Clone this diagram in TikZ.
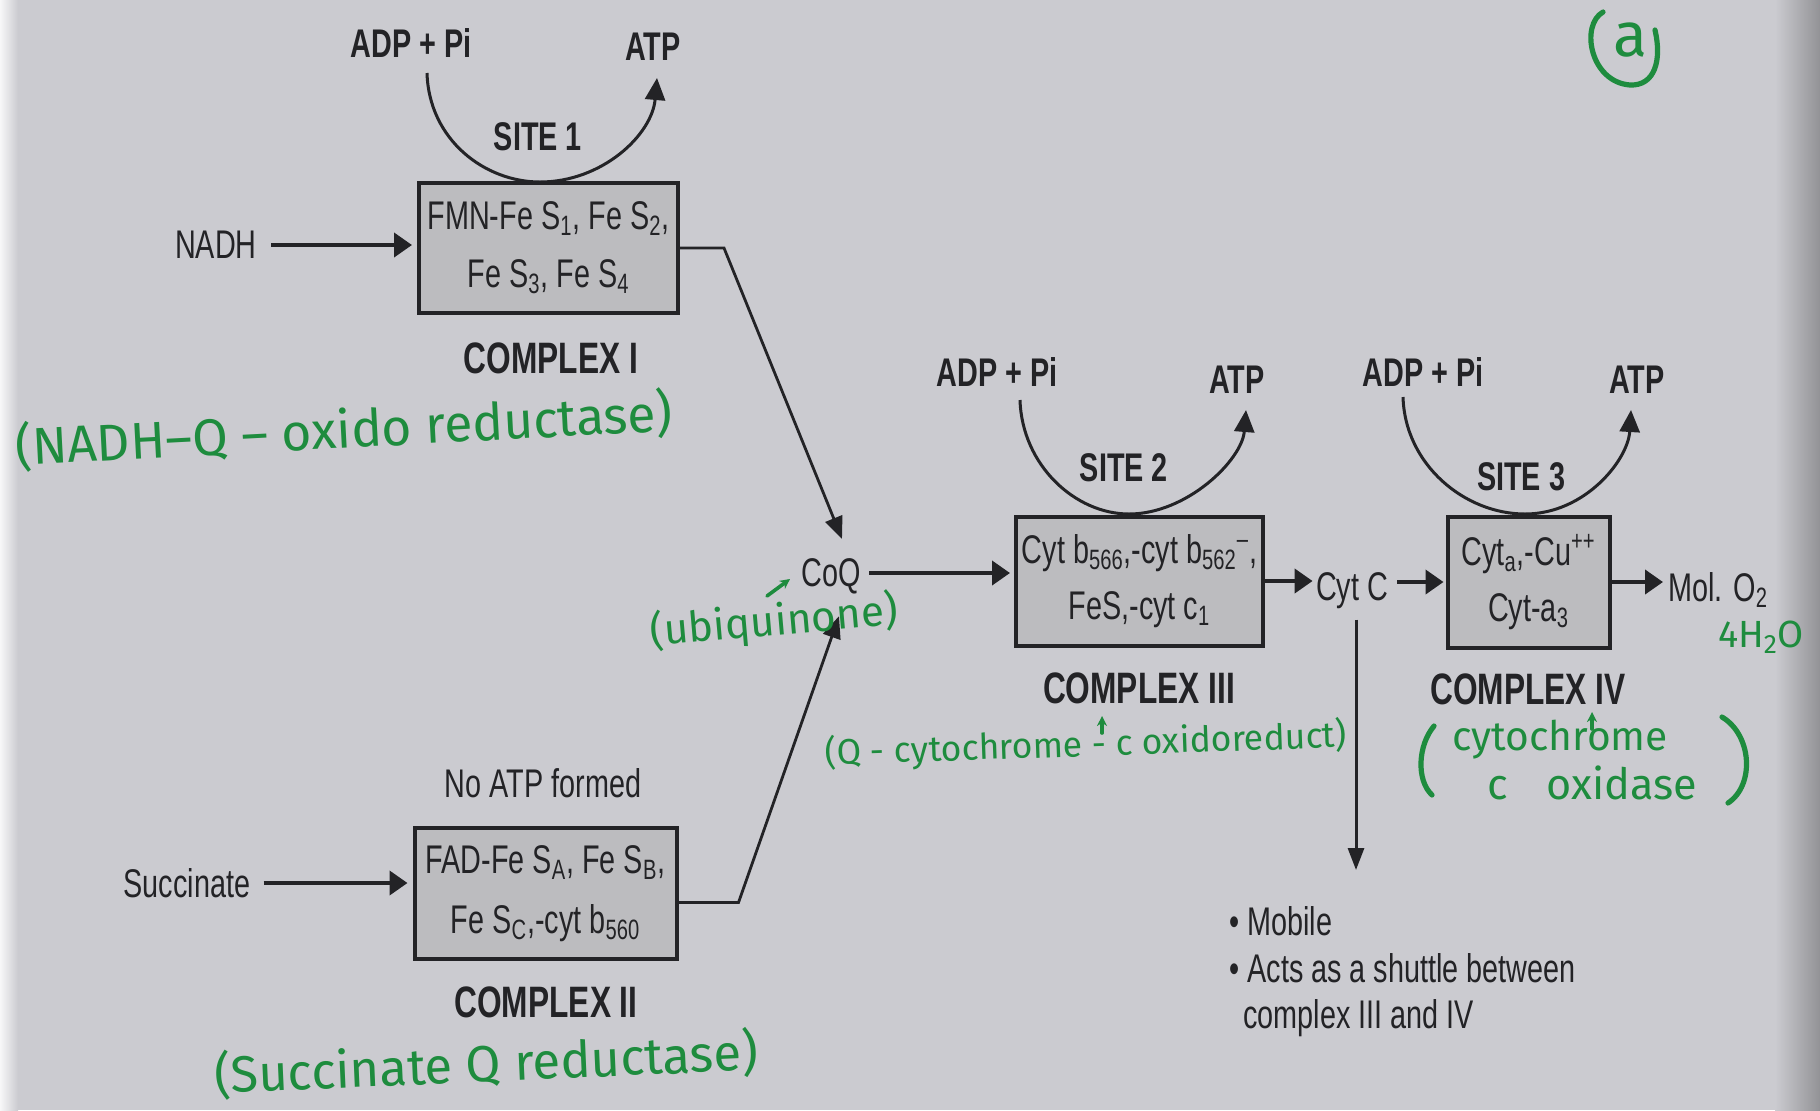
\documentclass[tikz,border=0pt]{standalone}
\usepackage{fontspec}
\setmainfont{Liberation Sans}[FakeStretch=0.72]
\newfontfamily\hand{Fira Sans}
\usetikzlibrary{arrows.meta,calc}
\definecolor{paper}{RGB}{203,203,208}
\definecolor{boxfill}{RGB}{188,188,191}
\definecolor{ink}{RGB}{35,35,38}
\definecolor{marker}{RGB}{30,140,62}
\begin{document}
\begin{tikzpicture}[x=0.5pt,y=-0.5pt,
  txt/.style={text=ink,inner sep=0pt,font=\fontsize{20}{24}\selectfont},
  bold/.style={text=ink,inner sep=0pt,font=\bfseries\fontsize{20}{24}\selectfont},
  cplx/.style={text=ink,inner sep=0pt,font=\bfseries\fontsize{22}{26}\selectfont},
  cbox/.style={draw=ink,line width=2pt,fill=boxfill,text=ink,align=center,inner sep=0pt,font=\fontsize{20}{29}\selectfont},
  link/.style={draw=ink,line width=1.4pt,-{Triangle[length=11pt,width=9pt]}},
  flow/.style={draw=ink,line width=2pt,-{Triangle[length=9pt,width=12pt]}},
  down/.style={draw=ink,line width=1.5pt,-{Triangle[length=11pt,width=8pt]}},
  site/.style={draw=ink,line width=1.5pt,-{Triangle[length=11pt,width=10pt]}},
  note/.style={text=marker,inner sep=0pt,font=\hand\fontsize{22}{26}\selectfont},
  pen/.style={draw=marker,line width=2.6pt,line cap=round},
]
\useasboundingbox (0,0) rectangle (1820,1110);
\fill[paper] (0,0) rectangle (1820,1110);
\shade[left color=white!85!paper,right color=paper] (0,0) rectangle (18,1110);
\shade[left color=paper,right color=paper!72!black] (1775,0) rectangle (1820,1110);

% complexes
\node[cbox,minimum width=129.5pt,minimum height=65pt] (c1) at (548.5,248)
  {FMN-Fe S\textsubscript{1}, Fe S\textsubscript{2},\\Fe S\textsubscript{3}, Fe S\textsubscript{4}};
\node[cbox,minimum width=131pt,minimum height=65.5pt,font=\fontsize{20}{30}\selectfont] (c2) at (545.5,893.5)
  {FAD-Fe S\textsubscript{A}, Fe S\textsubscript{B},\\Fe S\textsubscript{C},-cyt b\textsubscript{560}};
\node[cbox,minimum width=123.5pt,minimum height=64.5pt,font=\fontsize{20}{28}\selectfont] (c3) at (1139.5,581)
  {Cyt b\textsubscript{566},-cyt b\textsubscript{562}\textsuperscript{–},\\FeS,-cyt c\textsubscript{1}};
\node[cbox,minimum width=81pt,minimum height=65.5pt,font=\fontsize{20}{28}\selectfont] (c4) at (1528.5,582)
  {Cyt\textsubscript{a},-Cu\textsuperscript{++}\\Cyt-a\textsubscript{3}};

% labels
\node[cplx] (l1) at (551,358) {COMPLEX I};
\node[cplx] (l2) at (546,1002) {COMPLEX II};
\node[cplx] (l3) at (1139,688) {COMPLEX III};
\node[cplx] (l4) at (1528,689) {COMPLEX IV};
\node[bold] (adp1) at (411,43) {ADP + Pi};
\node[bold] (atp1) at (653,47) {ATP};
\node[bold] (site1) at (538,137) {SITE 1};
\node[bold] (adp2) at (997,372) {ADP + Pi};
\node[bold] (atp2) at (1237,380) {ATP};
\node[bold] (site2) at (1124,468) {SITE 2};
\node[bold] (adp3) at (1423,372) {ADP + Pi};
\node[bold] (atp3) at (1637,380) {ATP};
\node[bold] (site3) at (1521,477) {SITE 3};

\node[txt] (nadh) at (216,245) {NADH};
\node[txt] (succ) at (187,883) {Succinate};
\node[txt] (noatp) at (543,783) {No ATP formed};
\node[txt] (coq) at (831,576) {CoQ};
\node[txt,anchor=base] (cytc) at (1352,600) {Cyt C};
\node[txt,anchor=base west] (mol) at (1668,601) {Mol. O\textsubscript{2}};
\node[txt,anchor=base west] (b1) at (1229,935) {\textbullet\ Mobile};
\node[txt,anchor=base west] (b2) at (1229,982) {\textbullet\ Acts as a shuttle between};
\node[txt,anchor=base west] (b3) at (1243,1028) {complex III and IV};

% site arcs
\coordinate (s1a) at (427,73); \coordinate (s1b) at (540,182); \coordinate (s1c) at (657,78);
\draw[site] (s1a) .. controls (429,140) and (485,182) .. (s1b) .. controls (602,182) and (652,135) .. (s1c);
\coordinate (s2a) at (1020,400); \coordinate (s2b) at (1129,514); \coordinate (s2c) at (1246,410);
\draw[site] (s2a) .. controls (1022,465) and (1075,514) .. (s2b) .. controls (1187,514) and (1242,460) .. (s2c);
\coordinate (s3a) at (1403,397); \coordinate (s3b) at (1525,514); \coordinate (s3c) at (1631,410);
\draw[site] (s3a) .. controls (1405,465) and (1465,514) .. (s3b) .. controls (1585,514) and (1628,460) .. (s3c);

% connectors
\draw[flow,shorten <=7pt,shorten >=2.5pt] (nadh.east) -- (nadh.east -| c1.west);
\draw[flow,shorten <=6.5pt,shorten >=2.5pt] (succ.east) -- (succ.east -| c2.west);
\draw[link] (c1.east) -- ++(44,0) -- ([xshift=5.5pt,yshift=9.5pt]coq.north);
\draw[link] ([yshift=-4.5pt]c2.east) -- ++(60,0) -- ([xshift=4pt,yshift=-11pt]coq.south);
\draw[flow,shorten <=4pt,shorten >=2pt] ([yshift=1.5pt]coq.east) -- ([yshift=1.5pt]coq.east -| c3.west);
\draw[flow,shorten >=1.5pt] (c3.east) -- (c3.east -| cytc.west);
\draw[flow,shorten <=4.5pt,shorten >=1pt] (cytc.east |- c4.west) -- (c4.west);
\draw[flow,shorten >=2.5pt] (c4.east) -- (c4.east -| mol.west);
\coordinate (cytcend) at (1356,870);
\draw[down,shorten <=5.5pt] (cytc.south -| cytcend) -- (cytcend);

% handwritten notes
\node[note,rotate=3] (n1) at (344,430) {\resizebox{329pt}{!}{(NADH–Q – oxido reductase)}};
\node[note,rotate=5] (n2) at (774,622) {\resizebox{124pt}{!}{(ubiquinone)}};
\node[note,rotate=2.5] (n3) at (486,1064) {\resizebox{272pt}{!}{(Succinate Q reductase)}};
\node[note,rotate=2] (n4) at (1086,745) {\resizebox{261pt}{!}{(Q - cytochrome - c oxidoreduct)}};
\node[note] (n5a) at (1560,740) {\resizebox{108pt}{!}{cytochrome}};
\node[note] (n5b) at (1592,783) {\resizebox{105pt}{!}{c\hspace{0.9em}oxidase}};
\draw[pen] (1434,726) .. controls (1418,745) and (1416,780) .. (1432,795);
\draw[pen] (1722,717) .. controls (1752,735) and (1755,785) .. (1728,803);
\node[note] (n6) at (1761,637) {\resizebox{43pt}{!}{4H\textsubscript{2}O}};
\node[note] (n7) at (1630,40) {\resizebox{17pt}{!}{a}};
\draw[pen] (1603,12) .. controls (1580,25) and (1590,82) .. (1630,85) .. controls (1655,86) and (1662,60) .. (1655,30);
\draw[pen,line width=1.8pt,-{Stealth[length=5pt,width=5pt]}] (767,596) -- (790,579);
\draw[pen,line width=1.8pt,-{Stealth[length=5pt,width=5pt]}] (1102,733) -- (1102,716);
\draw[pen,line width=1.8pt,-{Stealth[length=5pt,width=5pt]}] (1592,729) -- (1592,712);
\end{tikzpicture}
\end{document}
